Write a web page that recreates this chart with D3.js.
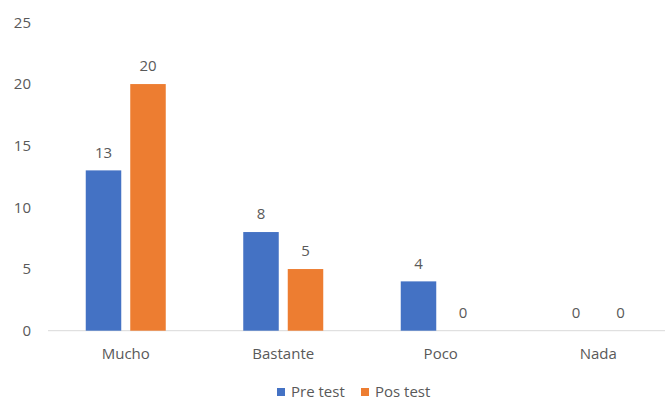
<!DOCTYPE html>
<html lang="es">
<head>
  <meta charset="UTF-8" />
  <title>Pre test / Pos test</title>
  <script src="https://cdnjs.cloudflare.com/ajax/libs/d3/7.8.5/d3.min.js"></script>
  <style>
    body { margin: 0; background: #fff; }
    svg { display: block; font-family: "Open Sans", "Liberation Sans", sans-serif; }
    text { fill: #595959; font-size: 15px; }
  </style>
</head>
<body>
  <svg id="chart" width="665" height="400"></svg>
  <script>
    const categories = ["Mucho", "Bastante", "Poco", "Nada"];
    const seriesNames = ["Pre test", "Pos test"];
    const preTest = [13, 8, 4, 0];
    const posTest = [20, 5, 0, 0];
    const yTicks = [0, 5, 10, 15, 20, 25];
    const colors = ["#4472c4", "#ed7d31"];

    const svg = d3.select("#chart");
    const plotLeft = 47, plotRight = 677, plotTop = 22.4, plotBottom = 330.7;

    const x = d3.scaleBand().domain(categories).range([plotLeft, plotRight]).padding(0);
    const y = d3.scaleLinear().domain([0, 25]).range([plotBottom, plotTop]);

    const barW = 35.5, gap = 9;
    const groupW = barW * 2 + gap;

    // y tick labels
    svg.append("g").selectAll("text")
      .data(yTicks)
      .enter().append("text")
      .attr("x", 31)
      .attr("y", d => y(d))
      .attr("dy", "0.35em")
      .attr("text-anchor", "end")
      .text(d => d);

    // baseline
    svg.append("line")
      .attr("x1", plotLeft + 1).attr("x2", 665)
      .attr("y1", y(0)).attr("y2", y(0))
      .attr("stroke", "#d9d9d9").attr("stroke-width", 1);

    const rows = categories.map((c, i) => ({ cat: c, vals: [preTest[i], posTest[i]] }));

    const g = svg.append("g").selectAll("g")
      .data(rows)
      .enter().append("g");

    g.selectAll("rect")
      .data(d => d.vals.map((v, j) => ({ cat: d.cat, v, j })))
      .enter().append("rect")
      .attr("x", d => x(d.cat) + x.bandwidth() / 2 - groupW / 2 + d.j * (barW + gap))
      .attr("y", d => y(d.v))
      .attr("width", barW)
      .attr("height", d => y(0) - y(d.v))
      .attr("fill", d => colors[d.j]);

    g.selectAll("text.val")
      .data(d => d.vals.map((v, j) => ({ cat: d.cat, v, j })))
      .enter().append("text")
      .attr("class", "val")
      .attr("x", d => x(d.cat) + x.bandwidth() / 2 - groupW / 2 + d.j * (barW + gap) + barW / 2)
      .attr("y", d => y(d.v) - 18)
      .attr("dy", "0.35em")
      .attr("text-anchor", "middle")
      .text(d => d.v);

    // category labels
    svg.append("g").selectAll("text")
      .data(categories)
      .enter().append("text")
      .attr("x", d => x(d) + x.bandwidth() / 2)
      .attr("y", 354)
      .attr("dy", "0.35em")
      .attr("text-anchor", "middle")
      .text(d => d);

    // legend
    const legendX = [277, 361];
    const leg = svg.append("g").selectAll("g")
      .data(seriesNames)
      .enter().append("g")
      .attr("transform", (d, i) => `translate(${legendX[i]},392)`);
    leg.append("rect")
      .attr("x", 0).attr("y", -4)
      .attr("width", 8).attr("height", 8)
      .attr("fill", (d, i) => colors[i]);
    leg.append("text")
      .attr("x", 14)
      .attr("dy", "0.35em")
      .text(d => d);
  </script>
</body>
</html>
